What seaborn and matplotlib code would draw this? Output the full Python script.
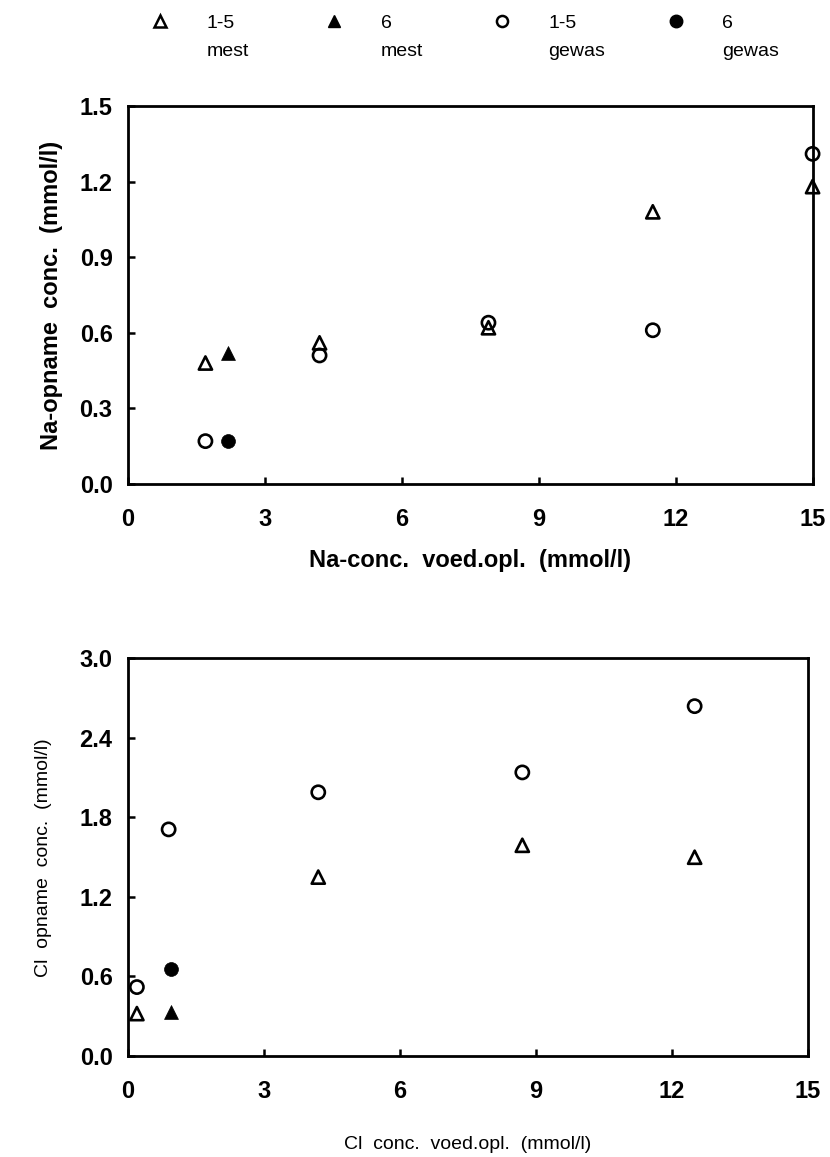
import matplotlib
matplotlib.use("Agg")
import matplotlib.pyplot as plt
import seaborn as sns
import pandas as pd
from matplotlib.lines import Line2D

sns.set_theme(style="white")
plt.rcParams['font.family'] = ['Liberation Sans', 'DejaVu Sans']
plt.rcParams['text.color'] = 'black'
plt.rcParams['axes.labelcolor'] = 'black'

# ---- data: Na (top panel) ----
na_x_mest15 = [1.7, 4.2, 7.9, 11.5, 15.0]
na_y_mest15 = [0.48, 0.56, 0.62, 1.08, 1.18]
na_x_mest6 = [2.2]
na_y_mest6 = [0.52]
na_x_gewas15 = [1.7, 4.2, 7.9, 11.5, 15.0]
na_y_gewas15 = [0.17, 0.51, 0.64, 0.61, 1.31]
na_x_gewas6 = [2.2]
na_y_gewas6 = [0.17]

# ---- data: Cl (bottom panel) ----
cl_x_mest15 = [0.2, 4.2, 8.7, 12.5]
cl_y_mest15 = [0.32, 1.35, 1.59, 1.50]
cl_x_mest6 = [0.95]
cl_y_mest6 = [0.33]
cl_x_gewas15 = [0.2, 0.9, 4.2, 8.7, 12.5]
cl_y_gewas15 = [0.52, 1.71, 1.99, 2.14, 2.64]
cl_x_gewas6 = [0.95]
cl_y_gewas6 = [0.66]

x_ticks = [0, 3, 6, 9, 12, 15]
na_y_ticks = [0.0, 0.3, 0.6, 0.9, 1.2, 1.5]
cl_y_ticks = [0.0, 0.6, 1.2, 1.8, 2.4, 3.0]

legend_top = ["1-5", "6  ", "1-5", "6  "]
legend_bottom = ["mest", "mest", "gewas", "gewas"]

fig = plt.figure(figsize=(8.3, 11.57), dpi=100)
ax1 = fig.add_axes([0.154, 0.5817, 0.825, 0.3267])
ax2 = fig.add_axes([0.154, 0.0873, 0.8195, 0.3436])

S_OPEN = 90
S_FILL = 100
LW = 1.9


def draw(ax, xm, ym, xm6, ym6, xg, yg, xg6, yg6):
    sns.scatterplot(x=xm, y=ym, ax=ax, marker="^", s=S_OPEN, facecolor="none",
                    edgecolor="black", linewidth=LW, zorder=3, clip_on=False)
    sns.scatterplot(x=xm6, y=ym6, ax=ax, marker="^", s=S_FILL, color="black",
                    edgecolor="black", linewidth=0.5, zorder=3, clip_on=False)
    sns.scatterplot(x=xg, y=yg, ax=ax, marker="o", s=S_OPEN, facecolor="none",
                    edgecolor="black", linewidth=LW, zorder=3, clip_on=False)
    sns.scatterplot(x=xg6, y=yg6, ax=ax, marker="o", s=S_FILL, color="black",
                    edgecolor="black", linewidth=0.5, zorder=3, clip_on=False)


draw(ax1, na_x_mest15, na_y_mest15, na_x_mest6, na_y_mest6,
     na_x_gewas15, na_y_gewas15, na_x_gewas6, na_y_gewas6)
draw(ax2, cl_x_mest15, cl_y_mest15, cl_x_mest6, cl_y_mest6,
     cl_x_gewas15, cl_y_gewas15, cl_x_gewas6, cl_y_gewas6)

for ax, yt in ((ax1, na_y_ticks), (ax2, cl_y_ticks)):
    ax.set_xlim(0, 15)
    ax.set_ylim(yt[0], yt[-1])
    ax.set_xticks(x_ticks)
    ax.set_yticks(yt)
    ax.set_xticklabels([str(t) for t in x_ticks])
    ax.set_yticklabels([f"{t:.1f}" for t in yt])
    for sp in ax.spines.values():
        sp.set_visible(True)
        sp.set_color("black")
        sp.set_linewidth(2)
    ax.tick_params(axis="both", direction="in", length=5, width=1.8,
                   colors="black", labelsize=17, bottom=True, left=True,
                   top=False, right=False)
    ax.tick_params(axis="x", pad=17)
    ax.tick_params(axis="y", pad=11)
    for lab in ax.get_xticklabels() + ax.get_yticklabels():
        lab.set_fontweight("bold")
    ax.grid(False)

ax1.set_xlabel("Na-conc.  voed.opl.  (mmol/l)", fontsize=17, fontweight="bold",
               labelpad=13)
ax1.set_ylabel("Na-opname  conc.  (mmol/l)", fontsize=17, fontweight="bold",
               labelpad=12)
ax2.set_xlabel("Cl  conc.  voed.opl.  (mmol/l)", fontsize=14, labelpad=24)
ax2.set_ylabel("Cl  opname  conc.  (mmol/l)", fontsize=14, labelpad=20)

handles = [
    Line2D([], [], ls="none", marker="^", mfc="none", mec="black", mew=1.8, ms=8),
    Line2D([], [], ls="none", marker="^", mfc="black", mec="black", ms=9),
    Line2D([], [], ls="none", marker="o", mfc="none", mec="black", mew=1.8, ms=8),
    Line2D([], [], ls="none", marker="o", mfc="black", mec="black", ms=9),
]
leg = fig.legend(handles, legend_top, ncol=4, loc="upper left",
                 bbox_to_anchor=(0.160, 1.003), frameon=False, fontsize=14,
                 handlelength=1.0, handletextpad=1.9, columnspacing=4.6)
for t in leg.get_texts():
    t.set_color("black")

fig.canvas.draw()
inv = fig.transFigure.inverted()
for txt, sub in zip(leg.get_texts(), legend_bottom):
    bb = txt.get_window_extent()
    x0, y0 = inv.transform((bb.x0, bb.y0))
    fig.text(x0, y0 - 0.010, sub, fontsize=14, ha="left", va="top")

fig.savefig("out.png", dpi=100, facecolor="white")
